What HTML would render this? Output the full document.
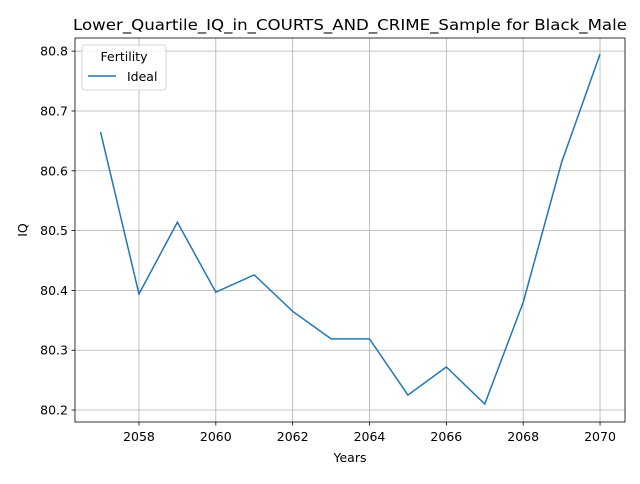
<!DOCTYPE html>
<html><head><meta charset="utf-8"><style>
body{margin:0;background:#fff;font-family:"DejaVu Sans","Liberation Sans",sans-serif}
text{font-family:"DejaVu Sans","Liberation Sans",sans-serif}
</style></head><body>
<svg id="c" width="640" height="480" xmlns="http://www.w3.org/2000/svg"></svg>
<script>
const years=[2057,2058,2059,2060,2061,2062,2063,2064,2065,2066,2067,2068,2069,2070];
const iqValues=[80.665,80.394,80.514,80.397,80.426,80.365,80.319,80.319,80.225,80.272,80.21,80.38,80.614,80.795];
const xTicks=[2058,2060,2062,2064,2066,2068,2070];
const yTicks=[80.2,80.3,80.4,80.5,80.6,80.7,80.8];
const L=75,R=625,T=38,B=422,xmin=2056.335,xmax=2070.65,ymin=80.18,ymax=80.822;
const sx=v=>L+(v-xmin)/(xmax-xmin)*(R-L);
const sy=v=>B-(v-ymin)/(ymax-ymin)*(B-T);
const svg=document.getElementById('c');const NS='http://www.w3.org/2000/svg';
function mk(tag,attrs,parent){const e=document.createElementNS(NS,tag);for(const k in attrs)e.setAttribute(k,attrs[k]);(parent||svg).appendChild(e);return e;}
xTicks.forEach(t=>{const x=sx(t);
const g=mk('line',{x1:x,x2:x,y1:T,y2:B,stroke:'#b0b0b0','stroke-width':0.8});


const tk=mk('line',{x1:x,x2:x,y1:B,y2:B+3.5,stroke:'#000','stroke-width':0.8});


const tx=mk('text',{x:x,y:B+19,'text-anchor':'middle','font-size':12.5});tx.textContent=t;

});
yTicks.forEach(t=>{const y=sy(t);
const g=mk('line',{x1:L,x2:R,y1:y,y2:y,stroke:'#b0b0b0','stroke-width':0.8});


const tk=mk('line',{x1:L-3.5,x2:L,y1:y,y2:y,stroke:'#000','stroke-width':0.8});


const tx=mk('text',{x:L-7,y:y+4.5,'text-anchor':'end','font-size':12.5});tx.textContent=t.toFixed(1);

});
const line=mk('polyline',{points:years.map((y,i)=>sx(y)+','+sy(iqValues[i])).join(' '),fill:'none',stroke:'#1f77b4','stroke-width':1.5});


const fr=mk('rect',{x:L,y:T,width:R-L,height:B-T,fill:'none',stroke:'#000','stroke-width':0.8});


</script>
<svg style="position:absolute;left:0;top:0" width="640" height="480" xmlns="http://www.w3.org/2000/svg">
<text x="350" y="30" text-anchor="middle" font-size="15" textLength="554" lengthAdjust="spacingAndGlyphs">Lower_Quartile_IQ_in_COURTS_AND_CRIME_Sample for Black_Male</text>
<text x="350" y="462" text-anchor="middle" font-size="12.5">Years</text>
<text x="27" y="230" text-anchor="middle" font-size="12.5" transform="rotate(-90 27 230)">IQ</text>
<g>
<rect x="82" y="45" width="84" height="45" rx="3" fill="#fff" fill-opacity="0.8" stroke="#ccc" stroke-width="0.8"/>
<text x="124" y="61" text-anchor="middle" font-size="12.5">Fertility</text>
<line x1="88" x2="116" y1="76" y2="76" stroke="#1f77b4" stroke-width="1.5"/>
<text x="127" y="81" font-size="12.5">Ideal</text>
</g>
</svg>
</body></html>
